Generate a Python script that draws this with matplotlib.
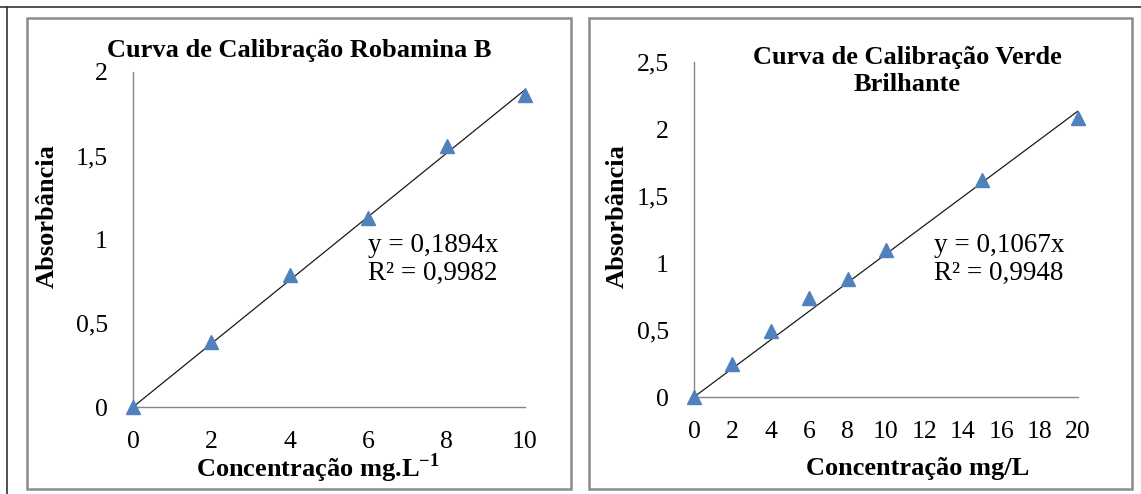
import numpy as np
import matplotlib
matplotlib.use("Agg")
import matplotlib.pyplot as plt
from matplotlib.patches import Rectangle
from matplotlib.lines import Line2D

plt.rcParams['font.family'] = ['Liberation Serif', 'DejaVu Serif']
plt.rcParams['mathtext.fontset'] = 'custom'
plt.rcParams['mathtext.rm'] = 'Liberation Serif'
plt.rcParams['mathtext.bf'] = 'Liberation Serif:bold'

# Robamina B
conc_rb = [0, 2, 4, 6, 8, 10]
abs_rb = [0.0, 0.39, 0.79, 1.13, 1.56, 1.86]
slope_rb = 0.1894
r2_rb = 0.9982

# Verde Brilhante
conc_vb = [0, 2, 4, 6, 8, 10, 15, 20]
abs_vb = [0.0, 0.25, 0.49, 0.74, 0.88, 1.10, 1.62, 2.08]
slope_vb = 0.1067
r2_vb = 0.9948

blue = '#4F81BD'
spine_gray = '#868686'
W, H = 1141, 494

fig = plt.figure(figsize=(W / 100, H / 100), dpi=100)


def fx(px):
    return px / W


def fy(py):
    return 1 - py / H


# outer frame lines and panel borders
fig.add_artist(Line2D([0, 1], [fy(7), fy(7)], color='#333333', lw=1.2))
fig.add_artist(Line2D([fx(7), fx(7)], [0, fy(7)], color='#333333', lw=1.2))
for x0, x1 in [(27, 571), (589, 1132)]:
    fig.add_artist(Rectangle((fx(x0), fy(489)), (x1 - x0) / W, (489 - 18) / H,
                             fill=False, edgecolor='#8c8c8c', lw=1.8))


def calib(ax, x, y, slope, r2, xmax, ymax, xticks, title, title_y, xlabel, xlabel_x, ylabel_x, eq_x):
    xs = np.array([0, xmax])
    ax.plot(xs, slope * xs, color='#1a1a1a', lw=0.9, zorder=2)
    ax.plot(x, y, linestyle='None', marker='^', markersize=9.5, color=blue, zorder=3, clip_on=False)
    ax.set_xlim(0, xmax)
    ax.set_ylim(0, ymax)
    ax.set_xticks(xticks)
    ax.set_xticklabels([str(t) for t in xticks])
    yt = np.arange(0, ymax + 1e-9, 0.5)
    ax.set_yticks(yt)
    ax.set_yticklabels([('%g' % v).replace('.', ',') for v in yt])
    ax.tick_params(length=0, labelsize=18.5)
    ax.tick_params(axis='y', pad=18)
    ax.tick_params(axis='x', pad=17)
    for s in ['top', 'right']:
        ax.spines[s].set_visible(False)
    for s in ['left', 'bottom']:
        ax.spines[s].set_color(spine_gray)
        ax.spines[s].set_linewidth(1.0)

    fig.text(fx(ylabel_x), fy(216), 'Absorbância', fontsize=19, fontweight='bold',
             rotation=90, ha='center', va='center')
    fig.text(title[1], fy(title_y), title[0], fontsize=19, fontweight='bold',
             ha='center', va='center', linespacing=1.25)
    fig.text(fx(xlabel_x), fy(468), xlabel, fontsize=19, fontweight='bold',
             ha='center', va='center')
    s_txt = ('%.4f' % slope).replace('.', ',')
    r_txt = ('%.4f' % r2).replace('.', ',')
    fig.text(fx(eq_x), fy(246), 'y = %sx' % s_txt, fontsize=19.5, ha='left', va='center')
    fig.text(fx(eq_x), fy(273), 'R² = %s' % r_txt, fontsize=19.5, ha='left', va='center')


ax1 = fig.add_axes([fx(133), fy(407), (525 - 133) / W, (407 - 72) / H])
calib(ax1, conc_rb, abs_rb, slope_rb, r2_rb, 10, 2, [0, 2, 4, 6, 8, 10],
      ('Curva de Calibração Robamina B', fx(299)), 50,
      'Concentração mg.L$^{\\mathbf{-1}}$', 318, 47, 368)

ax2 = fig.add_axes([fx(694), fy(397), (1078 - 694) / W, (397 - 62) / H])
calib(ax2, conc_vb, abs_vb, slope_vb, r2_vb, 20, 2.5, list(range(0, 21, 2)),
      ('Curva de Calibração Verde\nBrilhante', fx(907)), 71,
      'Concentração mg/L', 918, 617, 934)

fig.savefig('out.png', dpi=100, facecolor='white')
